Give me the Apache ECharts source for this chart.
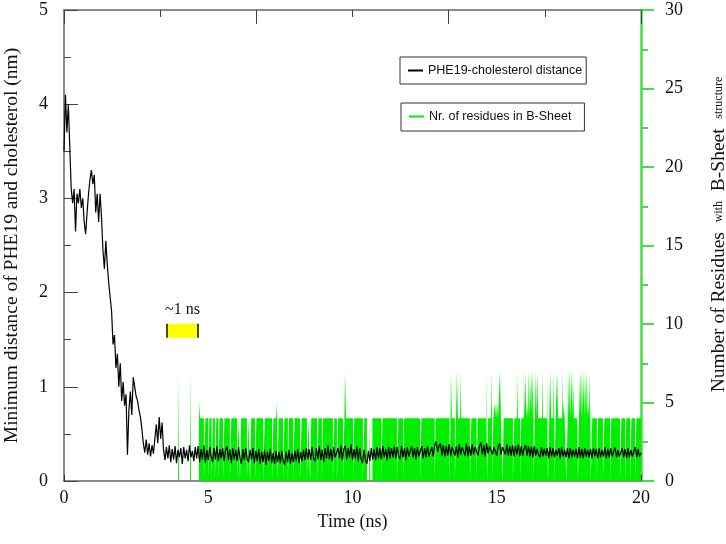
<!DOCTYPE html>
<html>
<head>
<meta charset="utf-8">
<script src="https://cdn.jsdelivr.net/npm/echarts@6/dist/echarts.min.js"></script>
<style>
html,body{margin:0;padding:0;background:#fff;}
#chart{width:726px;height:544px;}
</style>
</head>
<body>
<div id="chart"></div>
<script>
// ---------------- DATA ----------------
const timeStart = 0;      // ns
const timeStep = 0.05;    // ns between distance samples
// Minimum distance PHE19 - cholesterol (nm), sampled every 0.05 ns from 0 to 20 ns
const distance = [
 3.50,4.10,3.70,4.00,3.55,3.10,2.95,3.10,2.65,3.05,
 2.95,3.10,2.90,3.00,2.75,2.62,2.85,3.05,3.20,3.30,
 3.15,3.25,2.85,3.05,2.75,3.05,2.80,2.45,2.25,2.55,
 2.30,2.10,1.95,1.80,1.45,1.55,1.20,1.35,1.00,1.25,
 0.85,1.05,0.80,0.92,0.28,0.75,0.95,0.70,1.10,1.00,
 0.90,0.85,0.75,0.68,0.55,0.40,0.30,0.44,0.28,0.40,
 0.26,0.38,0.29,0.45,0.60,0.40,0.68,0.45,0.62,0.33,
 0.22,0.36,0.24,0.38,0.20,0.34,0.23,0.37,0.19,0.33,0.25,0.35,0.18,0.36,0.24,0.33,0.21,0.38,0.25,0.32,
 0.21,0.36,0.24,0.37,0.20,0.34,0.23,0.38,0.19,0.33,0.22,0.36,0.26,0.20,0.35,0.23,0.37,0.21,0.34,0.24,
 0.35,0.21,0.33,0.37,0.22,0.34,0.19,0.35,0.23,0.33,0.21,0.36,0.24,0.18,0.34,0.22,0.35,0.23,0.20,0.33,
 0.23,0.35,0.19,0.32,0.21,0.34,0.18,0.31,0.20,0.33,0.17,0.31,0.21,0.34,0.19,0.30,0.18,0.32,0.20,0.31,
 0.19,0.32,0.21,0.17,0.31,0.20,0.33,0.18,0.30,0.20,0.32,0.21,0.34,0.19,0.31,0.21,0.33,0.22,0.35,0.23,
 0.34,0.22,0.36,0.24,0.21,0.35,0.23,0.37,0.22,0.33,0.20,0.35,0.24,0.38,0.23,0.34,0.21,0.36,0.25,0.23,
 0.35,0.24,0.38,0.22,0.34,0.37,0.23,0.35,0.25,0.39,0.22,0.34,0.24,0.37,0.21,0.35,0.23,0.19,0.33,0.22,
 0.18,0.32,0.21,0.35,0.23,0.34,0.22,0.36,0.24,0.35,0.23,0.37,0.25,0.34,0.22,0.36,0.24,0.35,0.25,0.37,
 0.24,0.36,0.26,0.23,0.37,0.25,0.35,0.22,0.36,0.26,0.24,0.37,0.25,0.35,0.23,0.36,0.26,0.25,0.37,0.24,
 0.35,0.25,0.37,0.26,0.24,0.36,0.26,0.38,0.42,0.31,0.37,0.40,0.27,0.38,0.26,0.37,0.27,0.39,0.26,0.36,
 0.38,0.27,0.37,0.25,0.39,0.28,0.36,0.38,0.27,0.40,0.26,0.37,0.27,0.39,0.28,0.36,0.38,0.27,0.37,0.41,
 0.28,0.38,0.26,0.40,0.29,0.37,0.39,0.28,0.36,0.38,0.27,0.37,0.40,0.28,0.36,0.38,0.28,0.39,0.27,0.37,
 0.27,0.38,0.26,0.37,0.28,0.39,0.26,0.37,0.27,0.35,0.38,0.27,0.37,0.26,0.36,0.25,0.37,0.27,0.34,0.28,
 0.25,0.36,0.26,0.34,0.27,0.35,0.24,0.36,0.26,0.35,0.25,0.33,0.27,0.35,0.24,0.36,0.26,0.33,0.25,0.35,
 0.24,0.35,0.25,0.33,0.26,0.34,0.24,0.36,0.25,0.34,0.24,0.35,0.26,0.33,0.25,0.34,0.24,0.35,0.26,0.34,
 0.24,0.35,0.25,0.33,0.26,0.36,0.24,0.34,0.25,0.35,0.26,0.24,0.36,0.25,0.33,0.26,0.24,0.35,0.25,0.34,
 0.24,0.35,0.25,0.33,0.26,0.24,0.36,0.25,0.34,0.26,0.30
];

// Number of residues in B-Sheet: base level changes [time, residues]
const sheetLevels = [[0, 0], [4.68, 4]];
// intervals with 0 residues inside the 4-residue block [start, end] (ns)
const sheetGaps = [
 [4.85,4.90],[5.00,5.04],[5.12,5.16],[5.23,5.28],[5.35,5.39],[5.51,5.56],[5.75,5.80],[6.00,6.05],
 [6.10,6.14],[6.34,6.39],[6.45,6.49],[6.62,6.67],[6.90,6.96],[7.21,7.26],[7.40,7.44],[7.59,7.64],
 [7.76,7.80],[7.94,7.99],[8.18,8.24],[8.42,8.47],[8.53,8.57],[8.77,8.82],[8.94,8.98],[9.32,9.37],
 [9.46,9.50],[9.67,9.72],[10.02,10.06],[10.36,10.41],[10.50,10.58],[10.62,10.69],[11.00,11.04],
 [11.54,11.59],[11.75,11.79],[12.34,12.39],[12.85,12.89],[13.36,13.40],[13.55,13.59],[14.07,14.12],
 [14.30,14.34],[14.66,14.70],[14.84,14.88],[15.20,15.24],[15.56,15.61],[15.81,15.85],[16.28,16.32],
 [16.77,16.82],[17.00,17.04],[17.41,17.46],[17.81,17.85],[18.26,18.31],[18.47,18.51],[18.68,18.73],
 [18.93,18.97],[19.27,19.32],[19.45,19.49],[19.62,19.67],[19.80,19.84]
];
// single-frame peaks [time, residues]
const sheetSpikes = [
 [3.95,7],[4.37,7],[4.68,5],[7.35,5],[9.74,7],[13.41,7],[13.62,7],[13.73,7],[14.63,7],[14.80,7],
 [14.94,5],[15.01,5],[15.11,7],[15.70,7],[15.94,7],[15.99,7],[16.05,5],[16.11,7],[16.19,7],[16.24,7],
 [16.33,7],[16.40,7],[16.57,7],[16.74,7],[16.85,7],[16.96,7],[17.09,7],[17.26,7],[17.32,5],[17.47,7],
 [17.53,7],[17.59,7],[17.64,7],[17.78,5],[17.89,7],[17.95,7],[18.00,7],[18.06,7],[18.12,7],[18.17,5],
 [18.21,7]
];
const frameLength = 0.035; // ns, duration of one frame

const xTicks = [0, 5, 10, 15, 20];
const leftTicks = [0, 1, 2, 3, 4, 5];
const rightTicks = [0, 5, 10, 15, 20, 25, 30];
const annotation = { x: [3.57, 4.64], y: [1.52, 1.67], text: '~1 ns' };

// ---------------- BUILD ----------------
const distData = distance.map((v, i) => [+(timeStart + i * timeStep).toFixed(3), v]);

function buildSheet() {
  const tEnd = 20;
  const bounds = new Set([0, tEnd]);
  sheetLevels.forEach(l => bounds.add(l[0]));
  sheetGaps.forEach(g => { bounds.add(g[0]); bounds.add(g[1]); });
  sheetSpikes.forEach(s => { bounds.add(s[0]); bounds.add(+(s[0] + frameLength).toFixed(3)); });
  const b = Array.from(bounds).sort((a, c) => a - c);
  const out = [];
  for (let i = 0; i < b.length - 1; i++) {
    const m = (b[i] + b[i + 1]) / 2;
    let v = 0;
    sheetLevels.forEach(l => { if (m >= l[0]) v = l[1]; });
    sheetGaps.forEach(g => { if (m >= g[0] && m < g[1]) v = 0; });
    sheetSpikes.forEach(s => { if (m >= s[0] && m < s[0] + frameLength) v = s[1]; });
    if (!out.length || out[out.length - 1][1] !== v) out.push([b[i], v]);
  }
  out.push([tEnd, out[out.length - 1][1]]);
  return out;
}
const sheetData = buildSheet();

const serif = '"Liberation Serif","Times New Roman",serif';
const sans = '"Liberation Sans",Arial,sans-serif';
const green = '#00ee00';
const axisGreen = '#44dd44';
const gray = '#666';

const chart = echarts.init(document.getElementById('chart'), null, { renderer: 'canvas' });
chart.setOption({
  animation: false,
  backgroundColor: '#fff',
  grid: { left: 64, right: 85, top: 10, bottom: 63, containLabel: false, outerBoundsMode: 'none' },
  legend: [
    {
      data: ['PHE19-cholesterol distance'],
      left: 400, top: 57,
      borderColor: '#333', borderWidth: 1, padding: [7, 4, 7, 8],
      icon: 'rect', itemWidth: 15, itemHeight: 2, itemGap: 6,
      textStyle: { fontFamily: sans, fontSize: 12.5, color: '#111' }
    },
    {
      data: ['Nr. of residues in B-Sheet'],
      left: 401, top: 103,
      borderColor: '#333', borderWidth: 1, padding: [7, 13, 8, 8],
      icon: 'rect', itemWidth: 15, itemHeight: 2, itemGap: 6,
      textStyle: { fontFamily: sans, fontSize: 12.5, color: '#111' }
    }
  ],
  xAxis: [
    {
      type: 'value', min: 0, max: 20, interval: 5, position: 'bottom',
      name: 'Time (ns)', nameLocation: 'middle', nameGap: 32,
      nameTextStyle: { fontFamily: serif, fontSize: 18, color: '#111' },
      axisLine: { show: true, onZero: false, lineStyle: { color: gray, width: 1.5 } },
      axisTick: { show: true, inside: true, length: 6, lineStyle: { color: '#333' } },
      axisLabel: { fontFamily: serif, fontSize: 18, color: '#111', margin: 8,
        customValues: xTicks },
      splitLine: { show: false }
    },
    {
      type: 'value', min: 0, max: 6, interval: 2, position: 'top',
      axisLine: { show: true, onZero: false, lineStyle: { color: gray, width: 1.5 } },
      axisTick: { show: true, inside: true, length: 14, lineStyle: { color: '#444' } },
      minorTick: { show: true, splitNumber: 2, length: 7, lineStyle: { color: '#444' } },
      axisLabel: { show: false },
      splitLine: { show: false }
    }
  ],
  yAxis: [
    {
      type: 'value', min: 0, max: 5, interval: 1, position: 'left',
      name: 'Minimum distance of PHE19 and cholesterol (nm)',
      nameLocation: 'middle', nameGap: 42, nameRotate: 90,
      nameTextStyle: { fontFamily: serif, fontSize: 19.5, color: '#111' },
      axisLine: { show: true, onZero: false, lineStyle: { color: gray, width: 1.5 } },
      axisTick: { show: true, inside: true, length: 14, lineStyle: { color: '#444' } },
      minorTick: { show: true, splitNumber: 2, length: 7, lineStyle: { color: '#444' } },
      axisLabel: { fontFamily: serif, fontSize: 18, color: '#111', margin: 16,
        customValues: leftTicks },
      splitLine: { show: false }
    },
    {
      type: 'value', min: 0, max: 30, interval: 5, position: 'right',
      name: '{a|Number of Residues  }{b|with}{a|  B-Sheet  }{b|structure}',
      nameLocation: 'middle', nameGap: 68, nameRotate: 90,
      nameTextStyle: { padding: [0, 0, 0, 22], rich: {
        a: { fontFamily: serif, fontSize: 19.5, color: '#111' },
        b: { fontFamily: serif, fontSize: 12, color: '#111' }
      } },
      axisLine: { show: true, onZero: false, lineStyle: { color: axisGreen, width: 2.5 } },
      axisTick: { show: true, inside: false, length: 13, lineStyle: { color: axisGreen, width: 2 } },
      minorTick: { show: true, splitNumber: 2, length: 7, lineStyle: { color: axisGreen, width: 2 } },
      axisLabel: { fontFamily: serif, fontSize: 18, color: '#111', margin: 24,
        customValues: rightTicks },
      splitLine: { show: false }
    }
  ],
  series: [
    {
      name: 'Nr. of residues in B-Sheet',
      type: 'line', xAxisIndex: 0, yAxisIndex: 1,
      data: sheetData, step: 'end', symbol: 'none', showSymbol: false,
      itemStyle: { color: green },
      lineStyle: { width: 0, color: green },
      areaStyle: { color: green, opacity: 1 },
      z: 1, silent: true
    },
    {
      name: 'PHE19-cholesterol distance',
      type: 'line', xAxisIndex: 0, yAxisIndex: 0,
      data: distData, symbol: 'none', showSymbol: false,
      itemStyle: { color: '#000' },
      lineStyle: { width: 1.2, color: '#000' },
      z: 3, silent: true,
      markArea: {
        silent: true,
        itemStyle: { color: '#ffff00', opacity: 1 },
        label: { show: true, position: 'top', distance: 6, formatter: annotation.text,
          fontFamily: serif, fontSize: 16, color: '#111' },
        data: [[
          { xAxis: annotation.x[0], yAxis: annotation.y[0] },
          { xAxis: annotation.x[1], yAxis: annotation.y[1] }
        ]]
      },
      markLine: {
        silent: true, symbol: 'none',
        lineStyle: { color: '#4a4a10', width: 2, type: 'solid' },
        label: { show: false },
        data: [
          [{ coord: [annotation.x[0], annotation.y[0]] }, { coord: [annotation.x[0], annotation.y[1]] }],
          [{ coord: [annotation.x[1], annotation.y[0]] }, { coord: [annotation.x[1], annotation.y[1]] }]
        ]
      }
    }
  ]
});
</script>
</body>
</html>
